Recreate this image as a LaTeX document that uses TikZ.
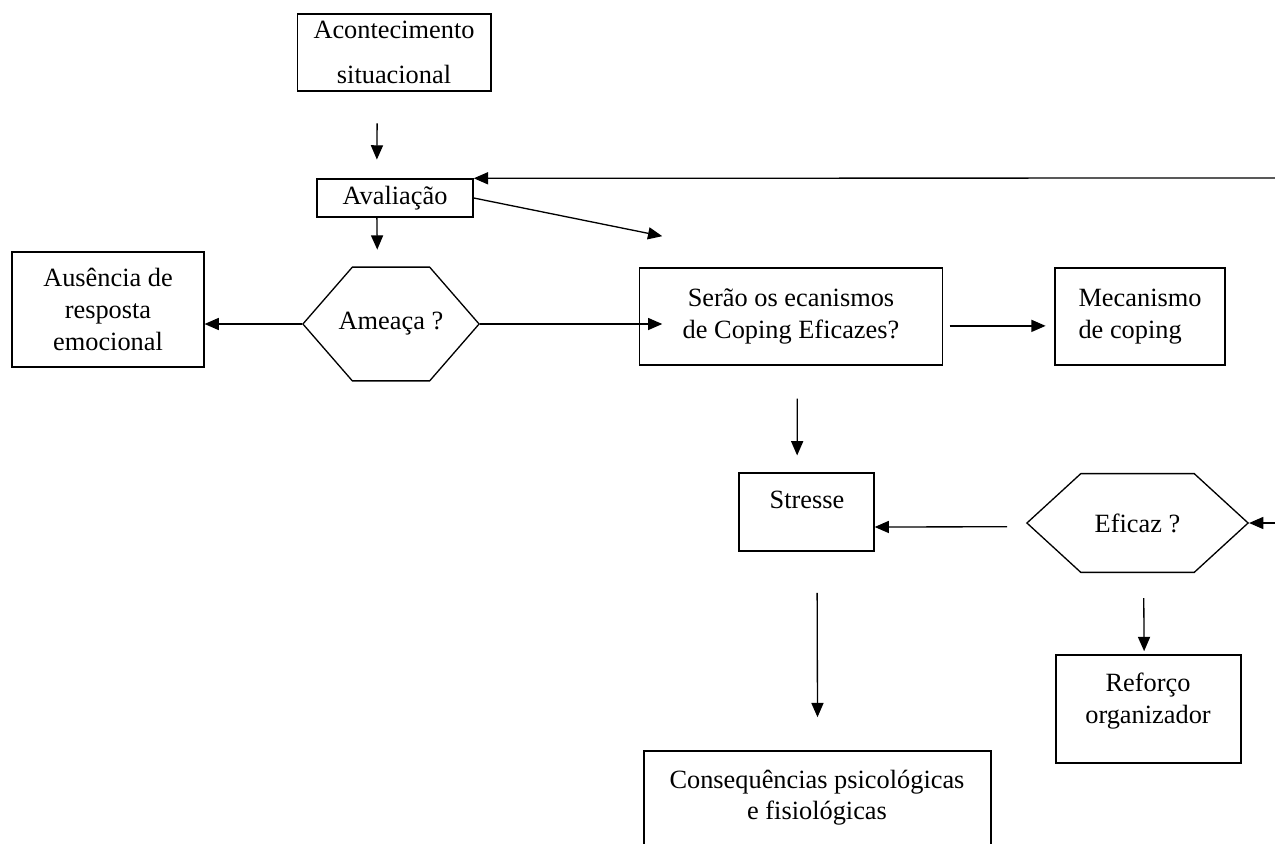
\documentclass[tikz,border=0pt]{standalone}
\usepackage{fontspec}
\setmainfont{Liberation Serif}
\usetikzlibrary{arrows.meta, shapes.symbols, positioning}

\begin{document}
\begin{tikzpicture}[x=0.016cm, y=-0.016cm, line width=0.6pt,
    font=\fontsize{12}{14.5}\selectfont,
    box/.style={draw, rectangle, inner sep=2pt, align=center},
    hexa/.style={draw, signal, signal to=west and east, inner sep=0pt},
    txt/.style={inner sep=0pt, align=center},
    arr/.style={arrows={-Triangle[length=6.5pt, width=5.5pt]}}]
    \clip (0,0) rectangle (1275,843);

    % Nodes
    \node[box, minimum width=3.1cm, minimum height=1.23cm, font=\fontsize{12}{20.5}\selectfont] (acon) at (394,52.5) {Acontecimento\\situacional};
    \node[box, minimum width=2.5cm, minimum height=0.61cm] (aval) at (395,198) {Avaliação};
    \node[box, minimum width=3.07cm, minimum height=1.84cm] (ausen) at (108,309.5) {Ausência de\\resposta\\emocional};
    \node[hexa, minimum width=2.82cm, minimum height=1.82cm, signal pointer angle=98] (ameaca) at (391,324) {\makebox[0pt]{Ameaça ?}};
    \node[box, minimum width=4.86cm, minimum height=1.55cm] (serao) at (791,316.5) {Serão os ecanismos\\de Coping Eficazes?};
    \node[box, minimum width=2.72cm, minimum height=1.55cm, align=left] (mecan) at (1140,316.5) {Mecanismo\\de coping};
    \node[box, minimum width=2.16cm, minimum height=1.25cm] (stresse) at (806.5,512) {};
    \node[txt, anchor=base] (stresse text) at (807,508) {Stresse};
    \node[hexa, minimum width=3.54cm, minimum height=1.58cm, signal pointer angle=85] (eficaz) at (1137.5,523) {\makebox[0pt]{Eficaz ?}};
    \node[box, minimum width=2.96cm, minimum height=1.73cm] (reforco) at (1148.5,709) {};
    \node[txt, anchor=north] (reforco text) at (1148,672) {Reforço\\organizador};
    \node[box, minimum width=5.55cm, minimum height=2.37cm] (conseq) at (817.5,825) {};
    \node[txt, anchor=north] (conseq text) at (817,769) {Consequências psicológicas\\e fisiológicas};
    \coordinate (back) at (1275,178);
    \coordinate (loop) at (1275,523);

    % Connections
    \draw[arr] ([xshift=-0.27cm, yshift=-0.51cm]acon.south) -- ([xshift=-0.29cm, yshift=0.30cm]aval.north);
    \draw[arr] ([xshift=-0.29cm]aval.south) -- ([xshift=-0.22cm, yshift=0.27cm]ameaca.north);
    \draw[arr] (aval.east) -- ([xshift=0.38cm, yshift=0.50cm]serao.north west);
    \draw[arr] (back) -- (aval.north east);
    \draw[arr] (ameaca.west) -- (ameaca.west -| ausen.east);
    \draw[arr, shorten >=-0.38cm] (ameaca.east) -- (ameaca.east -| serao.west);
    \draw[arr] ([xshift=0.1cm, yshift=-0.15cm]serao.east) -- ([xshift=-0.14cm, yshift=-0.15cm]mecan.west);
    \draw[arr] ([xshift=0.1cm, yshift=-0.53cm]serao.south) -- ([xshift=-0.15cm, yshift=0.27cm]stresse.north);
    \draw[arr] ([xshift=-0.3cm, yshift=-0.06cm]eficaz.west) -- ([yshift=-0.24cm]stresse.east);
    \draw[arr] (loop) -- (eficaz.east);
    \draw[arr] ([xshift=0.1cm, yshift=-0.4cm]eficaz.south) -- ([xshift=-0.07cm, yshift=0.05cm]reforco.north);
    \draw[arr] ([xshift=0.17cm, yshift=-0.66cm]stresse.south) -- ([yshift=0.53cm]conseq.north);
\end{tikzpicture}
\end{document}
